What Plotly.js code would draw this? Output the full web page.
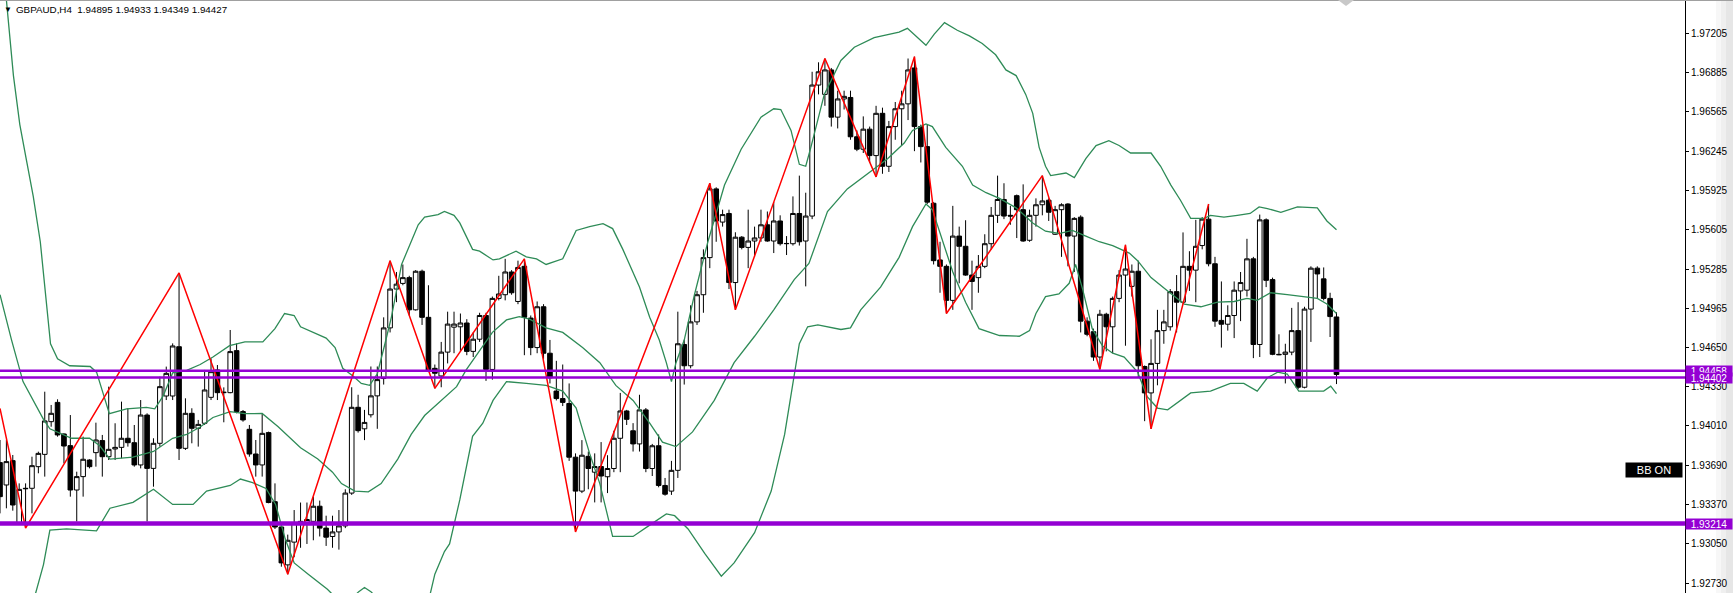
<!DOCTYPE html>
<html>
<head>
<meta charset="utf-8">
<script src="https://cdn.plot.ly/plotly-3.0.1.min.js"></script>
<style>
html,body{margin:0;padding:0;background:#fff;}
#chart{width:1733px;height:593px;}
</style>
</head>
<body>
<div id="chart"></div>
<script>
// ---------------- DATA ----------------
const symbol = "GBPAUD,H4";

const open = [
1.93710,1.93528,1.93726,1.93221,1.93501,1.93501,1.93677,1.93777,1.94043,1.94200,
1.93943,1.93848,1.93487,1.93596,1.93731,1.93791,1.93889,1.93758,1.93821,1.93834,
1.93908,1.93872,1.93691,1.94097,1.93663,1.93867,1.94252,1.94252,1.94653,1.93826,
1.94111,1.93989,1.94030,1.94241,1.94464,1.94279,1.94279,1.94621,1.94125,1.93981,
1.93780,1.93691,1.93954,1.93392,1.93186,1.92878,1.93063,1.93207,1.93217,1.93232,
1.93355,1.93177,1.93109,1.93146,1.93195,1.93462,1.94160,1.93985,1.94099,1.94253,
1.94394,1.94806,1.95122,1.95168,1.95215,1.94953,1.95267,1.94892,1.94477,1.94415,
1.94609,1.94812,1.94815,1.94846,1.94615,1.94714,1.94907,1.94468,1.95046,1.95076,
1.95261,1.95021,1.95307,1.94886,1.94646,1.94978,1.94600,1.94292,1.94231,1.94191,
1.93754,1.93478,1.93761,1.93632,1.93678,1.93595,1.93662,1.93908,1.94130,1.93969,
1.93862,1.94139,1.93662,1.93847,1.93524,1.93478,1.93647,1.94671,1.94498,1.94855,
1.95076,1.95378,1.95937,1.95667,1.95737,1.95175,1.95544,1.95461,1.95513,1.95538,
1.95645,1.95513,1.95676,1.95491,1.95491,1.95737,1.95513,1.95716,1.96782,1.96706,
1.96905,1.96521,1.96669,1.96681,1.96361,1.96260,1.96423,1.96208,1.96552,1.96121,
1.96444,1.96589,1.96629,1.96921,1.96444,1.96281,1.95820,1.95359,1.95307,1.95030,
1.95553,1.95470,1.95236,1.95215,1.95307,1.95491,1.95722,1.95851,1.95722,1.95882,
1.95768,1.95519,1.95722,1.95808,1.95845,1.95568,1.95768,1.95814,1.95553,1.95707,
1.94861,1.94775,1.94569,1.94917,1.94815,1.95046,1.95236,1.95144,1.95267,1.94492,
1.94277,1.94517,1.94784,1.94815,1.95101,1.95015,1.95307,1.95276,1.95476,1.95691,
1.95328,1.94867,1.94836,1.94907,1.95107,1.95113,1.95368,1.94671,1.95685,1.95199,
1.94591,1.94591,1.94609,1.94784,1.94323,1.94959,1.95292,1.95205,1.95046,1.94895
];
const high = [
1.93894,1.93894,1.93772,1.93541,1.93541,1.93758,1.93799,1.94287,1.94179,1.94225,
1.93948,1.94097,1.93636,1.93921,1.93737,1.94035,1.93935,1.94328,1.94030,1.94206,
1.94152,1.94016,1.94219,1.94111,1.93908,1.94409,1.94491,1.94680,1.95253,1.94233,
1.94152,1.94057,1.94464,1.94558,1.94504,1.94322,1.94789,1.94680,1.94138,1.94016,
1.93894,1.94111,1.93962,1.93541,1.93216,1.93124,1.93324,1.93385,1.93385,1.93432,
1.93401,1.93278,1.93278,1.93324,1.93493,1.94323,1.94262,1.94139,1.94492,1.94492,
1.94892,1.95353,1.95261,1.95322,1.95230,1.95276,1.95280,1.95153,1.94508,1.94692,
1.94938,1.94938,1.94923,1.94877,1.94769,1.94929,1.94929,1.95061,1.95230,1.95368,
1.95276,1.95353,1.95368,1.94907,1.95021,1.94999,1.94708,1.94538,1.94508,1.94354,
1.93785,1.93893,1.93800,1.93785,1.93877,1.93770,1.93969,1.94277,1.94139,1.94031,
1.94262,1.94154,1.93862,1.93939,1.93585,1.93724,1.94938,1.94708,1.94990,1.95107,
1.95445,1.95983,1.95950,1.95768,1.95768,1.95584,1.95553,1.95768,1.95630,1.95768,
1.95753,1.95829,1.95722,1.95553,1.95876,1.96045,1.95906,1.96890,1.96967,1.96998,
1.96921,1.96736,1.96736,1.96736,1.96413,1.96527,1.96444,1.96613,1.96598,1.96490,
1.96644,1.96736,1.96998,1.97013,1.96460,1.96460,1.95829,1.95507,1.95322,1.95799,
1.95630,1.95682,1.95353,1.95399,1.95568,1.95790,1.96045,1.95983,1.95799,1.95891,
1.95974,1.95768,1.95860,1.96045,1.95860,1.95799,1.95820,1.95820,1.95707,1.95722,
1.94892,1.94800,1.94953,1.94929,1.95061,1.95276,1.95482,1.95322,1.95353,1.94500,
1.94713,1.94953,1.94953,1.95122,1.95236,1.95583,1.95430,1.95685,1.95707,1.95814,
1.95384,1.95184,1.94990,1.95184,1.95261,1.95531,1.95384,1.95728,1.95697,1.95215,
1.94754,1.94677,1.94969,1.95015,1.94978,1.95307,1.95307,1.95298,1.95092,1.94933
];
const low = [
1.93297,1.93338,1.93319,1.93216,1.93178,1.93297,1.93623,1.93596,1.94002,1.93921,
1.93704,1.93433,1.93230,1.93433,1.93663,1.93677,1.93596,1.93731,1.93731,1.93745,
1.93840,1.93677,1.93663,1.93230,1.93514,1.93840,1.94219,1.94219,1.93731,1.93813,
1.93867,1.93840,1.94016,1.94219,1.94219,1.94038,1.94274,1.94111,1.94043,1.93758,
1.93596,1.93596,1.93379,1.93170,1.92863,1.92801,1.92940,1.93017,1.93048,1.93078,
1.93109,1.93032,1.93017,1.93002,1.93177,1.93447,1.93954,1.93893,1.94077,1.93985,
1.94345,1.94769,1.95015,1.95153,1.94907,1.94947,1.94830,1.94446,1.94314,1.94323,
1.94517,1.94600,1.94615,1.94584,1.94569,1.94692,1.94375,1.94385,1.95030,1.95030,
1.95076,1.94999,1.94584,1.94584,1.94600,1.94554,1.94354,1.94216,1.94170,1.93724,
1.93146,1.93462,1.93493,1.93386,1.93386,1.93462,1.93632,1.93632,1.94016,1.93800,
1.93800,1.93632,1.93601,1.93509,1.93441,1.93447,1.93585,1.94345,1.94477,1.94830,
1.94929,1.95292,1.95507,1.95630,1.95122,1.94953,1.95445,1.95292,1.95384,1.95507,
1.95507,1.95415,1.95476,1.95399,1.95476,1.95476,1.95144,1.95691,1.96706,1.96613,
1.96444,1.96429,1.96583,1.96337,1.96244,1.96229,1.96150,1.96035,1.96060,1.96075,
1.96337,1.96290,1.96497,1.96244,1.96152,1.95814,1.95322,1.95092,1.94923,1.94953,
1.95169,1.95230,1.94953,1.95092,1.95292,1.95445,1.95660,1.95691,1.95645,1.95537,
1.95507,1.95507,1.95630,1.95722,1.95676,1.95562,1.95384,1.95307,1.95261,1.94769,
1.94738,1.94538,1.94468,1.94615,1.94600,1.95015,1.94661,1.95061,1.94400,1.94047,
1.93985,1.94339,1.94677,1.94784,1.94769,1.95009,1.95107,1.95015,1.95445,1.95307,
1.94815,1.94646,1.94784,1.94723,1.94861,1.95061,1.94560,1.94569,1.95138,1.94584,
1.94584,1.94354,1.94584,1.94308,1.94314,1.94692,1.95046,1.95030,1.94732,1.94349
];
const close = [
1.93433,1.93718,1.93365,1.93492,1.93498,1.93685,1.93785,1.94049,1.94111,1.93935,
1.93845,1.93487,1.93596,1.93737,1.93677,1.93894,1.93758,1.93818,1.93834,1.93908,
1.93872,1.93691,1.94097,1.93663,1.93867,1.94328,1.94436,1.94659,1.93826,1.94111,
1.93989,1.94021,1.94301,1.94450,1.94279,1.94282,1.94613,1.94125,1.94057,1.93780,
1.93691,1.93948,1.93385,1.93186,1.92894,1.93078,1.93216,1.93232,1.93247,1.93355,
1.93177,1.93103,1.93146,1.93195,1.93462,1.94160,1.93970,1.94037,1.94253,1.94385,
1.94806,1.95122,1.95162,1.95215,1.94953,1.95267,1.94892,1.94461,1.94437,1.94609,
1.94837,1.94837,1.94846,1.94615,1.94714,1.94907,1.94468,1.95046,1.95082,1.95261,
1.95092,1.95298,1.94892,1.94646,1.94978,1.94600,1.94400,1.94231,1.94200,1.93754,
1.93478,1.93770,1.93662,1.93678,1.93601,1.93662,1.93908,1.94130,1.94062,1.93862,
1.94139,1.93662,1.93847,1.93524,1.93453,1.93647,1.94677,1.94498,1.94855,1.95076,
1.95378,1.95937,1.95676,1.95728,1.95175,1.95544,1.95461,1.95513,1.95538,1.95645,
1.95513,1.95676,1.95491,1.95493,1.95737,1.95507,1.95716,1.96782,1.96890,1.96905,
1.96521,1.96669,1.96690,1.96361,1.96260,1.96423,1.96208,1.96552,1.96121,1.96444,
1.96589,1.96629,1.96905,1.96444,1.96281,1.95829,1.95353,1.95307,1.95030,1.95553,
1.95470,1.95236,1.95184,1.95307,1.95491,1.95722,1.95851,1.95716,1.95716,1.95768,
1.95513,1.95722,1.95808,1.95839,1.95747,1.95768,1.95808,1.95553,1.95697,1.94861,
1.94754,1.94569,1.94917,1.94815,1.95046,1.95236,1.95285,1.95267,1.94498,1.94277,
1.94517,1.94784,1.94855,1.95101,1.95015,1.95307,1.95276,1.95470,1.95691,1.95328,
1.94861,1.94836,1.94907,1.95113,1.95175,1.95368,1.94671,1.95685,1.95193,1.94591,
1.94588,1.94609,1.94784,1.94323,1.94959,1.95292,1.95245,1.95046,1.94898,1.94427
];

// Bollinger bands (candle index, price)
const bbUpperIdx = [0,1,2.1,3.1,4.2,5.2,6.3,7.3,7.9,9,10.9,14.1,15.1,16.1,17.1,19.8,22.9,24.2,25.5,27,29.2,31.3,33.3,35.9,38.3,41.1,43,44.5,46,47,49.7,51,52.4,53.6,55.2,56.5,57.8,59,60.2,61.2,62.8,64.3,65.4,66.4,68.5,69.5,71,71.9,73.9,75,77.1,78.1,80.7,82.3,83.9,85.4,88,90.1,92.2,94.3,95.8,97.4,100,101.6,103.1,104.2,105,105.7,107,108.6,110.7,113.3,115.9,119,121,122.1,123.7,125,126,126.8,128.9,131.5,133.6,136.7,140.6,141.9,143.2,144.8,146.1,147.7,149.7,151.6,153.6,155.7,157.3,158.9,160.4,161.5,162.5,163.5,164.3,165.6,166.7,168,169.8,171.4,173.4,175,176.8,180,181.5,183.1,184.6,186.2,188.3,189.3,191.4,193.5,195.5,196.9,198.2,200.3,202.9,206,207.5,209];
const bbUpper = [1.97700,1.97474,1.96859,1.96460,1.96152,1.95876,1.95507,1.95015,1.94677,1.94554,1.94498,1.94492,1.94446,1.94277,1.94108,1.94148,1.94160,1.94148,1.94250,1.94440,1.94461,1.94508,1.94569,1.94661,1.94692,1.94692,1.94800,1.94923,1.94907,1.94815,1.94754,1.94723,1.94646,1.94477,1.94415,1.94354,1.94339,1.94431,1.94677,1.94892,1.95322,1.95507,1.95645,1.95707,1.95728,1.95753,1.95722,1.95660,1.95445,1.95430,1.95359,1.95368,1.95430,1.95384,1.95368,1.95322,1.95368,1.95599,1.95630,1.95654,1.95614,1.95445,1.95138,1.94892,1.94708,1.94523,1.94369,1.94521,1.94707,1.95076,1.95507,1.95968,1.96260,1.96521,1.96589,1.96583,1.96413,1.96137,1.96121,1.96275,1.96706,1.96982,1.97090,1.97167,1.97213,1.97243,1.97182,1.97105,1.97197,1.97290,1.97228,1.97182,1.97120,1.97028,1.96905,1.96859,1.96706,1.96552,1.96275,1.96121,1.96045,1.96054,1.96066,1.96029,1.96183,1.96290,1.96330,1.96290,1.96229,1.96229,1.96121,1.95968,1.95845,1.95697,1.95697,1.95722,1.95707,1.95722,1.95737,1.95790,1.95777,1.95746,1.95790,1.95783,1.95676,1.95605];

const bbMiddleIdx = [0,1.8,3.6,5.2,6.8,7.8,11.2,14,15.6,17.2,20.8,24,27,29.2,31.3,33.3,36,38.3,41,43.5,47,49.7,52,53.4,55.5,57.6,59.6,62.2,64.3,66.4,69,71.4,72.9,75,77,79.2,81.2,82.8,85.4,88,91.1,93.8,96.3,99,101.6,103.6,105.7,108.3,111.7,114.8,118,121,124.2,126.5,129.4,132.5,135.7,138.8,141.4,142.7,144.8,145.8,147.9,150.5,152.1,154.2,156.3,158.9,161.5,163.5,165.6,167.7,169.8,171.9,174,176.6,177.9,180,182.6,185.2,187.8,190.4,193,195,196.6,198.7,201.3,203.9,206,207.5,209];
const bbMiddle = [1.95076,1.94708,1.94369,1.94216,1.94062,1.93985,1.93908,1.93908,1.93847,1.93739,1.93754,1.93801,1.93908,1.93939,1.94000,1.94077,1.94124,1.94108,1.94110,1.94001,1.93831,1.93739,1.93632,1.93539,1.93478,1.93472,1.93539,1.93739,1.93939,1.94093,1.94216,1.94328,1.94464,1.94626,1.94770,1.94871,1.94897,1.94877,1.94806,1.94769,1.94646,1.94523,1.94338,1.94216,1.94031,1.93877,1.93840,1.93960,1.94216,1.94523,1.94738,1.94953,1.95199,1.95330,1.95753,1.95937,1.96060,1.96183,1.96310,1.96413,1.96466,1.96444,1.96275,1.96121,1.95968,1.95906,1.95860,1.95783,1.95660,1.95593,1.95574,1.95599,1.95553,1.95507,1.95476,1.95415,1.95353,1.95215,1.95107,1.95000,1.94978,1.95015,1.95021,1.95046,1.95030,1.95092,1.95076,1.95061,1.95046,1.95000,1.94923];

const bbLowerIdx = [4,5.6,6.8,7.8,10.4,15.1,17.2,20.8,24,27,30.2,32.3,36,37.6,39.5,41.6,43.1,44.6,46,48.2,51.2,52.4,54,56.1,57,58,60,64,67,68,69.5,70.3,71.9,73.9,75.5,77.1,79.2,82.3,85.4,88,90.1,92.2,93.8,95.8,99,101.6,104.2,105.5,107.6,110.2,112.8,114.8,118,120.6,122.7,125,126.3,127.9,129.4,131.5,133,134.6,137.7,140.6,142.7,144.8,145.8,147.4,149,151,153.1,156.3,159.4,161,162,163.5,165.6,167.2,168.2,169.3,170.8,172.4,174,175.8,177.9,179.4,181,182.6,186.2,189.3,192.4,194.5,196.6,198.2,199.8,201.3,203.1,205,207,208.1,209];
const bbLower = [1.92350,1.92649,1.92880,1.93160,1.93170,1.93155,1.93339,1.93386,1.93493,1.93370,1.93370,1.93478,1.93524,1.93576,1.93547,1.93500,1.93370,1.93090,1.92894,1.92802,1.92679,1.92617,1.92550,1.92660,1.92694,1.92660,1.92550,1.92500,1.92580,1.92802,1.92986,1.93048,1.93406,1.93924,1.94031,1.94216,1.94369,1.94354,1.94339,1.94292,1.94154,1.93785,1.93539,1.93109,1.93109,1.93201,1.93293,1.93278,1.93170,1.92971,1.92786,1.92894,1.93140,1.93478,1.93939,1.94677,1.94815,1.94830,1.94815,1.94793,1.94806,1.94953,1.95138,1.95380,1.95630,1.95814,1.95768,1.95507,1.95261,1.95015,1.94800,1.94744,1.94738,1.94784,1.94923,1.95061,1.95082,1.95169,1.95322,1.95122,1.94800,1.94661,1.94600,1.94569,1.94446,1.94246,1.94154,1.94139,1.94277,1.94292,1.94354,1.94354,1.94292,1.94400,1.94446,1.94431,1.94292,1.94292,1.94292,1.94332,1.94271];

// ZigZag pivots
const zigzagIdx = [0,4,28,45,61,68,82,90,111,115,129,137,143,148,163,172,176,180,189];
const zigzagVal = [1.94150,1.93178,1.95253,1.92801,1.95353,1.94314,1.95368,1.93146,1.95983,1.94953,1.96998,1.96035,1.97013,1.94923,1.96045,1.94468,1.95482,1.93985,1.95814];

// Horizontal price levels
const levels = [1.94458, 1.94402, 1.93214];
const levelWidths = [2.5, 2.5, 4.5];

// Price-axis ticks
const tickVals = [1.97205,1.96885,1.96565,1.96245,1.95925,1.95605,1.95285,1.94965,1.94650,1.94330,1.94010,1.93690,1.93370,1.93050,1.92730];
const tickText = ["1.97205","1.96885","1.96565","1.96245","1.95925","1.95605","1.95285","1.94965","1.94650","1.94330","1.94010","1.93690","1.93370","1.93050","1.92730"];

// ---------------- CHART ----------------
const idx = open.map((_, i) => i);
const FONT = "Liberation Sans, Arial, sans-serif";
const PURPLE = "#9400d3";
const GREEN = "#2e8b57";
const PW = 1685; // plot area width in px (for paper-ref decorations)

const traces = [
  {type:'scatter', mode:'lines', x:bbUpperIdx, y:bbUpper, line:{color:GREEN, width:1.3}, hoverinfo:'skip', showlegend:false},
  {type:'scatter', mode:'lines', x:bbMiddleIdx, y:bbMiddle, line:{color:GREEN, width:1.3}, hoverinfo:'skip', showlegend:false},
  {type:'scatter', mode:'lines', x:bbLowerIdx, y:bbLower, line:{color:GREEN, width:1.3}, hoverinfo:'skip', showlegend:false},
  {type:'candlestick', x:idx, open:open, high:high, low:low, close:close,
   increasing:{line:{color:'#000', width:1}, fillcolor:'#ffffff'},
   decreasing:{line:{color:'#000', width:1}, fillcolor:'#000000'},
   whiskerwidth:0, hoverinfo:'none', showlegend:false},
  {type:'scatter', mode:'lines', x:zigzagIdx, y:zigzagVal, line:{color:'#ff0000', width:1.5}, hoverinfo:'skip', showlegend:false}
];

const shapes = [];
// right-edge grey gradient of the price scale panel
[[1716,1721,'#f7f7f7'],[1721,1726,'#efefef'],[1726,1733,'#e6e6e6']].forEach(g => {
  shapes.push({type:'rect', xref:'paper', yref:'paper', x0:g[0]/PW, x1:g[1]/PW, y0:0, y1:1,
               fillcolor:g[2], line:{width:0}, layer:'below'});
});
levels.forEach((lv, k) => {
  shapes.push({type:'line', xref:'paper', yref:'y', x0:0, x1:1, y0:lv, y1:lv,
               line:{color:PURPLE, width:levelWidths[k]}, layer:'above'});
});
// top border
shapes.push({type:'line', xref:'paper', yref:'paper', x0:0, x1:1733/PW, y0:1, y1:1,
             line:{color:'#a0a0a0', width:2}});
// chart-shift marker at top
shapes.push({type:'path', xref:'paper', yref:'paper',
             path:`M ${1338/PW},1 L ${1354/PW},1 L ${1346/PW},${1-6/593} Z`,
             fillcolor:'#c8c8c8', line:{width:0}});

const n = open.length - 1;
const headerText = symbol + "\u00a0\u00a0" + [open[n], high[n], low[n], close[n]].map(v => v.toFixed(5)).join(" ");

const annotations = [
  {xref:'paper', yref:'paper', x:2/PW, y:1-3/593, xanchor:'left', yanchor:'top', text:'▼',
   showarrow:false, font:{family:FONT, size:8, color:'#000'}},
  {xref:'paper', yref:'paper', x:14/PW, y:1-2/593, xanchor:'left', yanchor:'top', text:headerText,
   showarrow:false, font:{family:FONT, size:9.8, color:'#000'}},
  {xref:'paper', yref:'paper', x:1683/PW, y:1-469.5/593, xanchor:'right', yanchor:'middle', text:'BB ON',
   showarrow:false, bgcolor:'#000', width:56, height:14, borderpad:0, font:{family:FONT, size:11, color:'#fff'}}
];
levels.forEach(lv => {
  annotations.push({xref:'paper', yref:'y', x:1, y:lv, xanchor:'left', yanchor:'middle',
    text:lv.toFixed(5), showarrow:false, bgcolor:PURPLE, width:46, height:10, borderpad:0,
    align:'center', font:{family:FONT, size:10, color:'#fff'}});
});

const layout = {
  width:1733, height:593,
  margin:{l:0, r:1733-PW, t:0, b:0, pad:0},
  paper_bgcolor:'#ffffff', plot_bgcolor:'#ffffff',
  showlegend:false,
  boxgap:0.28, boxgroupgap:0,
  xaxis:{range:[0, 263.5], visible:false, showgrid:false, zeroline:false, fixedrange:true,
         rangeslider:{visible:false}},
  yaxis:{range:[1.92649, 1.97474], side:'right', showgrid:false, zeroline:false,
         showline:true, linecolor:'#000', linewidth:1, ticks:'outside', ticklen:3, tickcolor:'#000',
         tickmode:'array', tickvals:tickVals, ticktext:tickText, automargin:false, fixedrange:true,
         tickfont:{family:FONT, size:10, color:'#000'}},
  shapes:shapes,
  annotations:annotations,
  hovermode:false
};

Plotly.newPlot('chart', traces, layout, {displayModeBar:false, staticPlot:true});
</script>
</body>
</html>
